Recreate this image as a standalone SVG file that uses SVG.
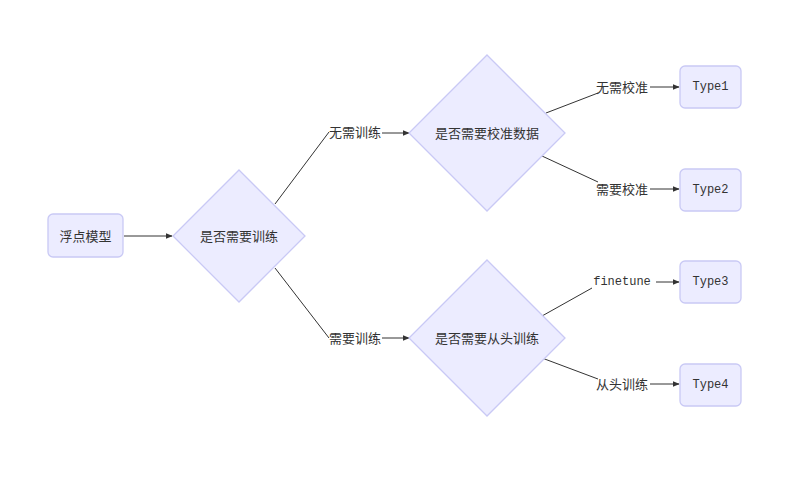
<svg xmlns="http://www.w3.org/2000/svg" width="790" height="481" viewBox="0 0 790 481">
<style>
.n{fill:#ececff;stroke:#c9c9f5;stroke-width:1.3}
.t{font-family:"Liberation Sans","Noto Sans CJK SC",sans-serif;font-size:13px;fill:#333;text-anchor:middle;dominant-baseline:central}
.m{font-family:"Liberation Mono",monospace;font-size:12px;fill:#333;text-anchor:middle;dominant-baseline:central}
.e{stroke:#333;stroke-width:1;fill:none}
</style>
<defs><marker id="a" viewBox="0 0 10 10" refX="9" refY="5" markerWidth="7" markerHeight="7" orient="auto"><path d="M0,1L10,5L0,9z" fill="#333"/></marker></defs>
<rect width="790" height="481" fill="#fff"/>
<g id="connectors">
<path class="e" d="M124,236L172,236" marker-end="url(#a)"/>
<path class="e" d="M275,204L329,132"/><path class="e" d="M382,133L409,133" marker-end="url(#a)"/>
<path class="e" d="M275,268L329,338"/><path class="e" d="M382,338L409,338" marker-end="url(#a)"/>
<path class="e" d="M546,113L598,93"/><path class="e" d="M650,87L679,87" marker-end="url(#a)"/>
<path class="e" d="M542,156L598,182"/><path class="e" d="M650,189L679,189" marker-end="url(#a)"/>
<path class="e" d="M542,316L592,288"/><path class="e" d="M656,282L679,282" marker-end="url(#a)"/>
<path class="e" d="M542,358L598,379"/><path class="e" d="M650,384L679,384" marker-end="url(#a)"/>
<text class="t" x="355" y="132">无需训练</text>
<text class="t" x="355" y="338">需要训练</text>
<text class="t" x="622" y="87">无需校准</text>
<text class="t" x="622" y="189">需要校准</text>
<text class="m" x="622" y="282">finetune</text>
<text class="t" x="622" y="384">从头训练</text>
</g>
<g id="n0"><rect class="n" x="48" y="214" width="75" height="43" rx="5"/><text class="t" x="85.5" y="236">浮点模型</text></g>
<g id="d1"><path class="n" d="M239,170L305,236L239,302L173,236z"/><text class="t" x="239" y="236">是否需要训练</text></g>
<g id="d2"><path class="n" d="M487,55L565,133L487,211L409,133z"/><text class="t" x="487" y="133">是否需要校准数据</text></g>
<g id="d3"><path class="n" d="M487,260L565,338L487,416L409,338z"/><text class="t" x="487" y="338">是否需要从头训练</text></g>
<g id="t1"><rect class="n" x="680" y="66" width="61" height="42" rx="5"/><text class="m" x="710.5" y="87">Type1</text></g>
<g id="t2"><rect class="n" x="680" y="169" width="61" height="42" rx="5"/><text class="m" x="710.5" y="190">Type2</text></g>
<g id="t3"><rect class="n" x="680" y="261" width="61" height="42" rx="5"/><text class="m" x="710.5" y="282">Type3</text></g>
<g id="t4"><rect class="n" x="680" y="364" width="61" height="42" rx="5"/><text class="m" x="710.5" y="385">Type4</text></g>
</svg>
